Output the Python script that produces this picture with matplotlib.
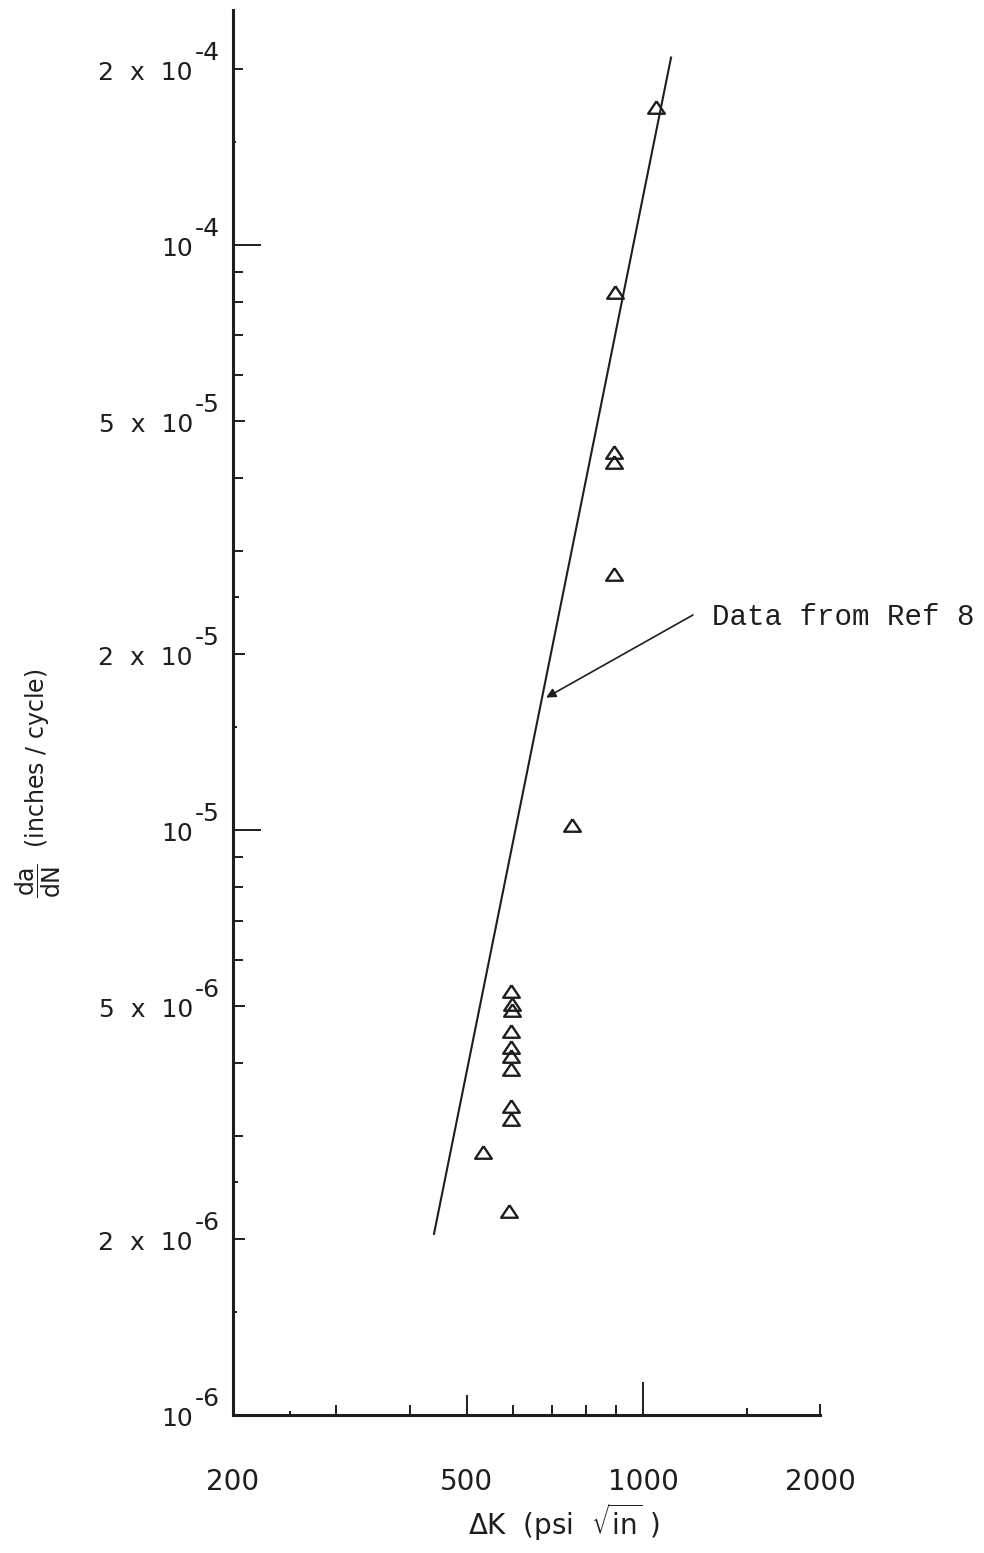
import matplotlib
matplotlib.use("Agg")
import matplotlib.pyplot as plt
from matplotlib.ticker import NullLocator

plt.rcParams['mathtext.fontset'] = 'dejavusans'
plt.rcParams['font.family'] = ['DejaVu Sans']

# crack growth data
dk = [1050, 895, 891, 891, 891, 755,
      596, 598, 598, 595, 595, 595, 595, 595, 595, 533, 590]
rate = [1.72e-4, 8.31e-5, 4.43e-5, 4.25e-5, 2.74e-5, 1.02e-5,
        5.31e-6, 5.04e-6, 4.92e-6, 4.54e-6, 4.26e-6, 4.10e-6, 3.90e-6,
        3.37e-6, 3.21e-6, 2.81e-6, 2.23e-6]

# straight line "Data from Ref 8"
fit_dk = [440, 1115]
fit_rate = [2.04e-6, 2.09e-4]

x_ticks = [200, 250, 300, 400, 500, 600, 700, 800, 900, 1000, 1500, 2000]
x_tick_labels = ['200', '', '', '', '500', '', '', '', '', '1000', '', '2000']
x_tick_len = [0, 4, 10, 10, 20, 10, 10, 10, 10, 33, 7, 11]  # px

y_ticks = [1e-6, 1.5e-6, 2e-6, 2.5e-6, 3e-6, 4e-6, 5e-6, 6e-6, 7e-6, 8e-6, 9e-6,
           1e-5, 1.5e-5, 2e-5, 2.5e-5, 3e-5, 4e-5, 5e-5, 6e-5, 7e-5, 8e-5, 9e-5,
           1e-4, 1.5e-4, 2e-4]
y_tick_len = [0, 4, 12, 5, 10, 10, 12, 10, 10, 10, 10,
              28, 4, 12, 6, 10, 10, 12, 10, 10, 10, 10,
              28, 3, 10]  # px

y_label_vals = [2e-4, 1e-4, 5e-5, 2e-5, 1e-5, 5e-6, 2e-6, 1e-6]
y_label_mant = ['2', '', '5', '2', '', '5', '2', '']
y_label_exp = ['-4', '-4', '-5', '-5', '-5', '-6', '-6', '-6']

ink = '#1e1e1e'
px = 0.72  # points per pixel at dpi 100

fig = plt.figure(figsize=(9.84, 15.53), dpi=100)
ax = fig.add_axes([233/984, 138/1553, 587/984, 1405/1553])
ax.set_xscale('log')
ax.set_yscale('log')
ax.set_xlim(200, 2000)
ax.set_ylim(1e-6, 2.52e-4)

ax.plot(fit_dk, fit_rate, color=ink, lw=1.5)
tri = [(0, 0.75), (-1, -0.75), (1, -0.75), (0, 0.75)]
ax.plot(dk, rate, linestyle='none', marker=tri, markersize=12,
        markerfacecolor='none', markeredgecolor=ink, markeredgewidth=1.7)

# arrow + note
ax.annotate('', xy=(683, 1.683e-5), xytext=(1215, 2.33e-5),
            arrowprops=dict(arrowstyle='-|>', lw=1.2, color=ink,
                            mutation_scale=14, shrinkA=0, shrinkB=0))
ax.text(1309, 2.313e-5, 'Data from Ref 8', family='Liberation Mono',
        fontsize=21, color=ink, va='center', ha='left')

# spines
for s in ['top', 'right']:
    ax.spines[s].set_visible(False)
for s in ['left', 'bottom']:
    ax.spines[s].set_linewidth(2.2)
    ax.spines[s].set_color(ink)

# ticks, every one gets its own length
ax.xaxis.set_minor_locator(NullLocator())
ax.yaxis.set_minor_locator(NullLocator())
ax.set_xticks(x_ticks, x_tick_labels)
ax.set_yticks(y_ticks, [''] * len(y_ticks))
ax.tick_params(axis='both', direction='in', width=1.4, color=ink)
ax.tick_params(axis='x', pad=38, labelsize=20, labelcolor=ink)
ax.tick_params(axis='y', labelleft=False)
for t, L in zip(ax.xaxis.get_major_ticks(), x_tick_len):
    t.tick1line.set_markersize(L * px)
for t, L in zip(ax.yaxis.get_major_ticks(), y_tick_len):
    t.tick1line.set_markersize(L * px)

# y tick labels like "2 x 10^-4"
ytr = ax.get_yaxis_transform()
for v, m, e in zip(y_label_vals, y_label_mant, y_label_exp):
    base = (m + '  x  10') if m else '10'
    ax.annotate(base, xy=(0, v), xycoords=ytr, xytext=(-40, -4),
                textcoords='offset pixels', ha='right', va='center',
                fontsize=18, color=ink, annotation_clip=False)
    ax.annotate(e, xy=(0, v), xycoords=ytr, xytext=(-38, 16),
                textcoords='offset pixels', ha='left', va='center',
                fontsize=18, color=ink, annotation_clip=False)

fig.text(564/984, 1 - 1522/1553, r'$\Delta$K  (psi  $\sqrt{\mathrm{in}}$ )',
         ha='center', va='center', fontsize=20, color=ink)
fig.text(38/984, 1 - 783/1553,
         r'$\dfrac{\mathrm{da}}{\mathrm{dN}}$  (inches / cycle)',
         rotation=90, ha='center', va='center', fontsize=17, color=ink)

fig.savefig('out.png', dpi=100, facecolor='white')
